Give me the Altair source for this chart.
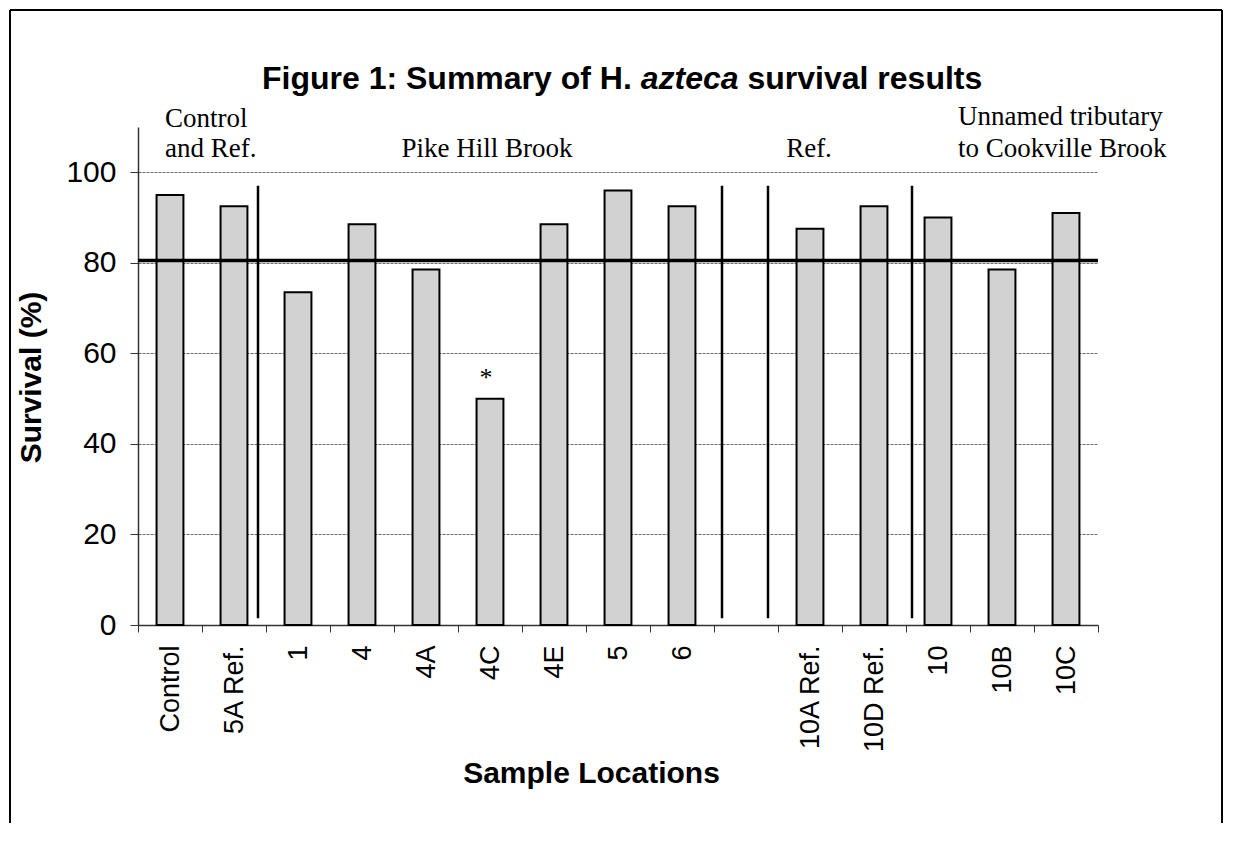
import altair as alt
import pandas as pd

# ---- data ----
categories = ["Control", "5A Ref.", "1", "4", "4A", "4C", "4E", "5", "6", " ",
              "10A Ref.", "10D Ref.", "10", "10B", "10C"]
bar_categories = ["Control", "5A Ref.", "1", "4", "4A", "4C", "4E", "5", "6",
                  "10A Ref.", "10D Ref.", "10", "10B", "10C"]
survival = [95, 92.5, 73.5, 88.5, 78.5, 50, 88.5, 96, 92.5, 87.5, 92.5, 90, 78.5, 91]
threshold = [80.5]
y_ticks = [0, 20, 40, 60, 80, 100]
star_category = ["4C"]
star_value = [54.5]
star_text = ["*"]
separator_top = 97
separator_bottom = 1.5

title_parts = ["Figure 1: Summary of H.", "azteca", "survival results"]

bars_df = pd.DataFrame({"cat": bar_categories, "v": survival})

FONT = "Liberation Sans"
SERIF = "Liberation Serif"
W, H = 960, 498

xaxis = alt.Axis(
    labelAngle=-90, labelFontSize=27, labelFont=FONT, labelColor="black",
    labelPadding=13, tickBand="extent", tickSize=7, tickColor="#333333",
    domainColor="#333333", domainWidth=1.5, labelOverlap=False,
    titleFontSize=30, titleFont=FONT, titleFontWeight="bold", titleColor="black",
    titleX=453, titleY=157, titleAlign="center", titleBaseline="alphabetic",
)
yaxis = alt.Axis(
    values=y_ticks, grid=True, gridColor="#6e6e6e", gridWidth=1, gridDash=[3, 1],
    labelFontSize=30, labelFont=FONT, labelColor="black", labelPadding=14,
    tickSize=8, tickColor="#333333", domainColor="#333333", domainWidth=1.5,
    titleFontSize=30, titleFont=FONT, titleFontWeight="bold", titleColor="black",
    titleAngle=270, titleX=-107, titleY=250, titleAlign="center", titleBaseline="middle",
)
xscale = alt.Scale(domain=categories, paddingInner=0, paddingOuter=0)
yscale = alt.Scale(domain=[0, 110], nice=False)


def X(bp=0.5):
    return alt.X("cat:N", sort=categories, scale=xscale, bandPosition=bp,
                 axis=xaxis, title="Sample Locations")


def Y(field="v"):
    return alt.Y(f"{field}:Q", scale=yscale, axis=yaxis, title="Survival (%)")


one = pd.DataFrame({"a": [0]})

# vertical separators between groups
def separator(cat, bp, off):
    df = pd.DataFrame({"cat": [cat], "v": [separator_top], "b": [separator_bottom]})
    return alt.Chart(df).mark_rule(color="black", strokeWidth=2.5, xOffset=off).encode(
        x=X(bp), y=Y("v"), y2="b:Q")


seps = [separator("1", 0, -8), separator(" ", 0, 8),
        separator("10A Ref.", 0, -10), separator("10", 0, 6)]

bars = alt.Chart(bars_df).mark_bar(
    width={"band": 0.42}, fill="#d2d2d2", stroke="black", strokeWidth=2
).encode(x=X(), y=Y())

thr = alt.Chart(pd.DataFrame({"v": threshold})).mark_rule(
    color="black", strokeWidth=3.5).encode(y=Y())

star = alt.Chart(pd.DataFrame({"cat": star_category, "v": star_value, "t": star_text})).mark_text(
    font=SERIF, fontSize=26, baseline="middle", color="black", dx=-4
).encode(x=X(), y=Y(), text="t:N")


def group_label(text, cat, y_px, align, dx=0):
    df = pd.DataFrame({"cat": [cat], "t": [text]})
    return alt.Chart(df).mark_text(
        font=SERIF, fontSize=27, align=align, baseline="alphabetic", color="black", dx=dx
    ).encode(x=X(), y=alt.value(y_px), text="t:N")


labels = [
    group_label("Control", "Control", 0, "left", -5),
    group_label("and Ref.", "Control", 30, "left", -5),
    group_label("Pike Hill Brook", "4C", 30, "center", -3),
    group_label("Ref.", "10A Ref.", 30, "center", -1),
    group_label("Unnamed tributary", "10", -2, "left", 20),
    group_label("to Cookville Brook", "10", 30, "left", 20),
]

title_x = [124, 502.8, 609.5]
title_styles = ["normal", "italic", "normal"]
titles = [
    alt.Chart(one).mark_text(
        text=t, font=FONT, fontSize=32, fontWeight="bold", fontStyle=s,
        align="left", baseline="alphabetic", color="black"
    ).encode(x=alt.value(x), y=alt.value(-38))
    for t, x, s in zip(title_parts, title_x, title_styles)
]

frame_top = alt.Chart(one).mark_rule(color="black", strokeWidth=2).encode(
    x=alt.value(-128), x2=alt.value(1084), y=alt.value(-117))
frame_left = alt.Chart(one).mark_rule(color="black", strokeWidth=2).encode(
    x=alt.value(-128), y=alt.value(-117), y2=alt.value(700))
frame_right = alt.Chart(one).mark_rule(color="black", strokeWidth=2).encode(
    x=alt.value(1084), y=alt.value(-117), y2=alt.value(700))

chart = alt.layer(
    *seps, bars, thr, star, *labels, *titles, frame_top, frame_left, frame_right
).properties(
    width=W, height=H,
    autosize=alt.AutoSizeParams(type="none"),
    padding={"left": 130, "top": 119, "right": 125, "bottom": 198},
    background="white",
).configure_view(strokeOpacity=0)

chart.save("out.html", embed_options={"renderer": "svg", "actions": False})
